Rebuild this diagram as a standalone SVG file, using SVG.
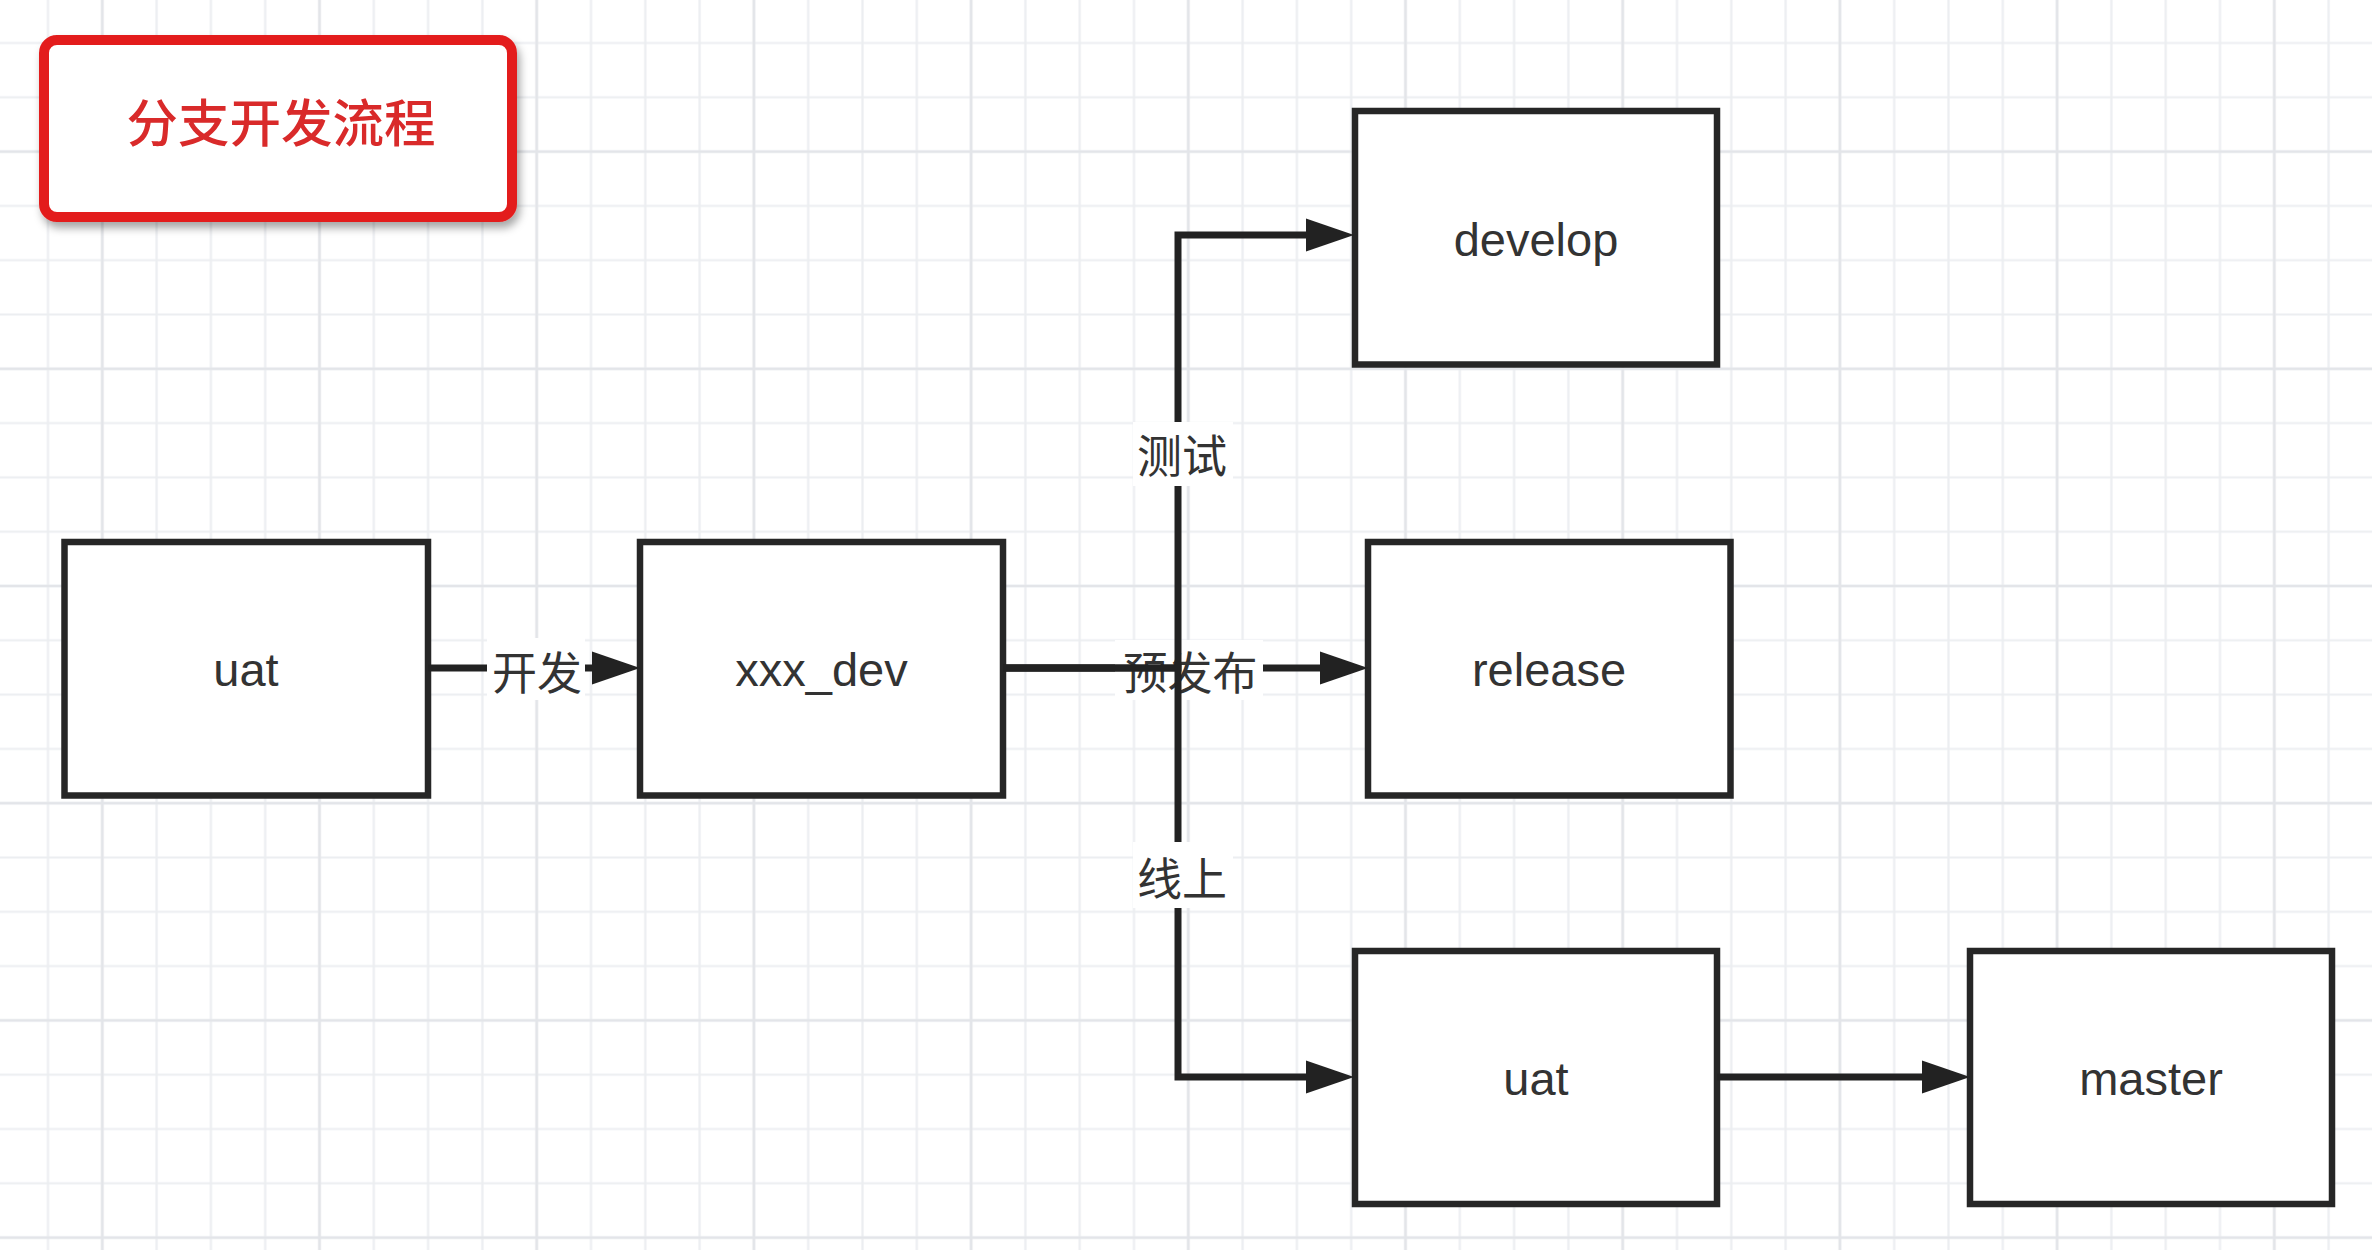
<svg xmlns="http://www.w3.org/2000/svg" width="2372" height="1250" viewBox="0 0 2372 1250">
<defs>
<pattern id="minor" patternUnits="userSpaceOnUse" x="20.85" y="15.85" width="54.3" height="54.3">
<path d="M0 27.15H54.3M27.15 0V54.3" stroke="#eceef1" stroke-width="2.2" fill="none"/>
</pattern>
<pattern id="major" patternUnits="userSpaceOnUse" x="-6.3" y="43" width="217.2" height="217.2">
<path d="M0 108.6H217.2M108.6 0V217.2" stroke="#e3e5e9" stroke-width="2.6" fill="none"/>
</pattern>
<filter id="shadow" x="-10%" y="-10%" width="130%" height="140%">
<feDropShadow dx="3" dy="6" stdDeviation="4" flood-color="#000" flood-opacity="0.35"/>
</filter>
<marker id="arrow" markerUnits="userSpaceOnUse" markerWidth="50" markerHeight="36" refX="8" refY="17" orient="auto">
<path d="M0 0.5L48 17L0 33.5z" fill="#222"/>
</marker>
<style>
.node rect{fill:#fff;stroke:#262626;stroke-width:6.5}
.node text{font-family:"Liberation Sans",Arial,sans-serif;font-size:47px;fill:#333;text-anchor:middle;dominant-baseline:central}
.edge{fill:none;stroke:#222;stroke-width:7}
.lbl rect{fill:#fff}
.lbl text{font-family:"Noto Sans CJK SC",sans-serif;font-size:45px;fill:#333;text-anchor:middle;dominant-baseline:central}
</style>
</defs>
<rect width="2372" height="1250" fill="#fff"/>
<rect width="2372" height="1250" fill="url(#minor)"/>
<rect width="2372" height="1250" fill="url(#major)"/>

<g id="title">
<rect x="44" y="40" width="468" height="177" rx="13" fill="#fff" stroke="#e31e1e" stroke-width="10" filter="url(#shadow)"/>
<text x="281" y="119" font-family="'Noto Sans CJK SC',sans-serif" font-size="51.5" fill="#d92a2a" text-anchor="middle" dominant-baseline="central" font-weight="500">分支开发流程</text>
</g>

<g id="node-uat-left" class="node">
<rect x="64.5" y="542" width="363.5" height="253.5"/>
<text x="246" y="669">uat</text>
</g>
<g id="node-xxx_dev" class="node">
<rect x="640" y="542" width="363" height="253.5"/>
<text x="821.5" y="669">xxx_dev</text>
</g>
<g id="node-develop" class="node">
<rect x="1355" y="111" width="362" height="253.5"/>
<text x="1536" y="239">develop</text>
</g>
<g id="node-release" class="node">
<rect x="1368" y="542" width="362.5" height="253.5"/>
<text x="1549" y="669">release</text>
</g>
<g id="node-uat-right" class="node">
<rect x="1355" y="951" width="362" height="253"/>
<text x="1536" y="1078">uat</text>
</g>
<g id="node-master" class="node">
<rect x="1970" y="951" width="362" height="253"/>
<text x="2151" y="1078">master</text>
</g>

<g id="connectors">
<path class="edge" d="M428 668H600" marker-end="url(#arrow)"/>
<g class="lbl"><rect x="487" y="638" width="98" height="62"/><text x="537" y="670">开发</text></g>
<path class="edge" d="M1003 668H1328" marker-end="url(#arrow)"/>
<g class="lbl"><rect x="1115" y="640" width="148" height="60"/><text x="1190" y="670">预发布</text></g>
<path class="edge" d="M1003 668H1178V235H1314" marker-end="url(#arrow)"/>
<path class="edge" d="M1003 668H1178V1077H1314" marker-end="url(#arrow)"/>
<path class="edge" d="M1717 1077H1930" marker-end="url(#arrow)"/>
<g class="lbl"><rect x="1133" y="422" width="100" height="64"/><text x="1182" y="453">测试</text></g>
<g class="lbl"><rect x="1133" y="842" width="100" height="66"/><text x="1182" y="876">线上</text></g>
</g>
</svg>
